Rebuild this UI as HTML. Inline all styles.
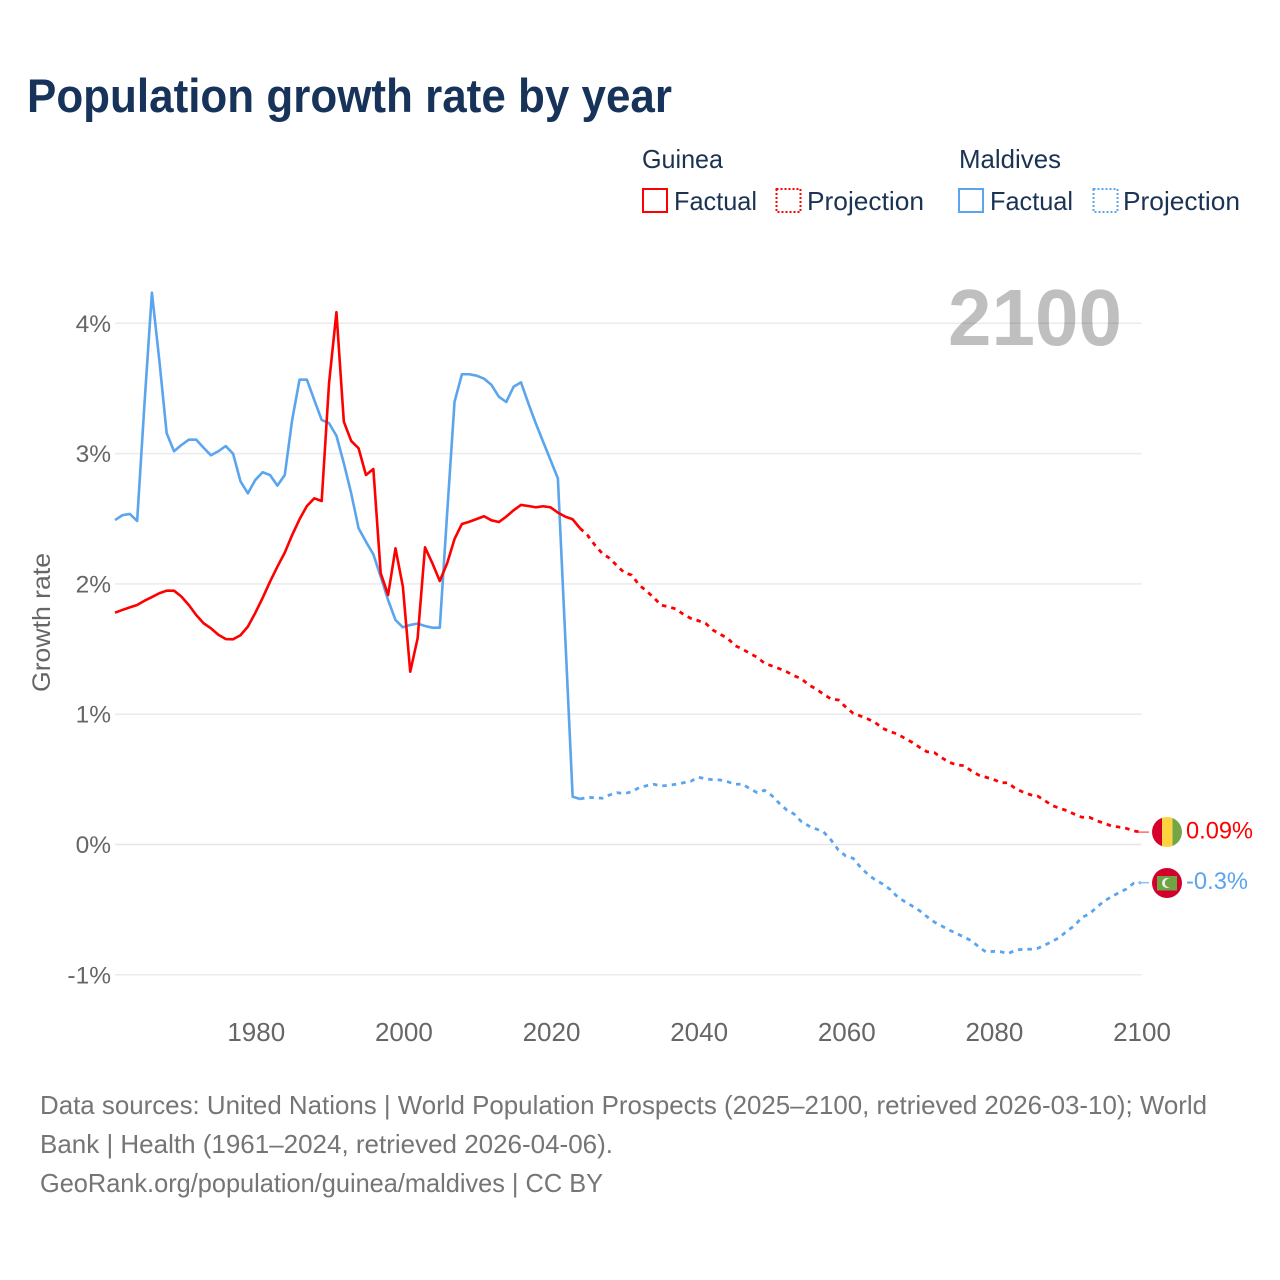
<!DOCTYPE html>
<html lang="en">
<head>
<meta charset="utf-8">
<title>Population growth rate by year</title>
<style>
html,body{margin:0;padding:0;background:#fff;}
svg{display:block;font-family:"Liberation Sans",sans-serif;}
</style>
</head>
<body>
<svg id="chart" xmlns="http://www.w3.org/2000/svg" width="1280" height="1280" viewBox="0 0 1280 1280">
  <rect x="0" y="0" width="1280" height="1280" fill="#ffffff"/>
  <text x="27" y="112" font-size="47" font-weight="bold" fill="#17335a" textLength="645" lengthAdjust="spacingAndGlyphs">Population growth rate by year</text>

  <g font-size="26" fill="#1b3353">
    <text x="642" y="168" textLength="81" lengthAdjust="spacingAndGlyphs">Guinea</text>
    <text x="959" y="168" textLength="102" lengthAdjust="spacingAndGlyphs">Maldives</text>
    <g>
      <rect x="643" y="189" width="24" height="23" fill="none" stroke="#ff0000" stroke-width="2"/>
      <text x="674" y="210" textLength="83" lengthAdjust="spacingAndGlyphs">Factual</text>
    </g>
    <g>
      <rect x="776.500" y="189" width="24" height="23" fill="none" stroke="#ff0000" stroke-width="2" stroke-dasharray="2 2"/>
      <text x="807" y="210" textLength="117" lengthAdjust="spacingAndGlyphs">Projection</text>
    </g>
    <g>
      <rect x="959" y="189" width="24" height="23" fill="none" stroke="#5ba4ee" stroke-width="2"/>
      <text x="990" y="210" textLength="83" lengthAdjust="spacingAndGlyphs">Factual</text>
    </g>
    <g>
      <rect x="1093.500" y="189" width="24" height="23" fill="none" stroke="#5ba4ee" stroke-width="2" stroke-dasharray="2 2"/>
      <text x="1123" y="210" textLength="117" lengthAdjust="spacingAndGlyphs">Projection</text>
    </g>
  </g>

  <g id="grid"></g>
  <g id="yticks" font-size="24.500" fill="#666666" text-anchor="end"></g>
  <g id="xticks" font-size="26" fill="#666666" text-anchor="middle"></g>
  <text transform="translate(50,622.500) rotate(-90)" font-size="25" fill="#666666" text-anchor="middle" textLength="139" lengthAdjust="spacingAndGlyphs">Growth rate</text>

  <text x="948" y="345" font-size="80" font-weight="bold" fill="#000000" fill-opacity="0.25" textLength="174" lengthAdjust="spacingAndGlyphs">2100</text>

  <g id="series"></g>

  <g>
    <clipPath id="clip-gn"><circle cx="1167" cy="832" r="15"/></clipPath>
    <g clip-path="url(#clip-gn)">
      <rect x="1152" y="817" width="10" height="30" fill="#d7002c"/>
      <rect x="1162" y="817" width="10.500" height="30" fill="#ffd340"/>
      <rect x="1172.500" y="817" width="10" height="30" fill="#72a646"/>
    </g>
  </g>
  <g>
    <circle cx="1167" cy="883" r="15" fill="#d3002e"/>
    <rect x="1157" y="876" width="20" height="14.500" fill="#6ea544"/>
    <circle cx="1167" cy="883" r="5" fill="#f2f2e8"/>
    <circle cx="1169" cy="883" r="4.200" fill="#6ea544"/>
  </g>
  <text id="label-guinea" x="1186" y="838.500" font-size="24.500" fill="#ff0000" textLength="67" lengthAdjust="spacingAndGlyphs"></text>
  <text id="label-maldives" x="1186" y="889" font-size="24.500" fill="#5ba4ee" textLength="62" lengthAdjust="spacingAndGlyphs"></text>

  <g font-size="26" fill="#757575">
    <text x="40" y="1114" textLength="1167" lengthAdjust="spacingAndGlyphs">Data sources: United Nations | World Population Prospects (2025–2100, retrieved 2026-03-10); World</text>
    <text x="40" y="1153" textLength="573" lengthAdjust="spacingAndGlyphs">Bank | Health (1961–2024, retrieved 2026-04-06).</text>
    <text x="40" y="1192" textLength="563" lengthAdjust="spacingAndGlyphs">GeoRank.org/population/guinea/maldives | CC BY</text>
  </g>
</svg>
<script>
const xTickYears = [1980, 2000, 2020, 2040, 2060, 2080, 2100];
const yTickValues = [-1, 0, 1, 2, 3, 4];
const yTickLabels = ["-1%", "0%", "1%", "2%", "3%", "4%"];
const factualStartYear = 1961;
const projectionStartYear = 2024;
const guineaEndLabel = "0.09%";
const maldivesEndLabel = "-0.3%";

const guineaFactual = [
  1.779,1.800,1.820,1.838,1.871,1.899,1.928,1.948,1.948,1.902,
  1.838,1.761,1.698,1.659,1.610,1.577,1.575,1.606,1.672,1.777,
  1.892,2.017,2.132,2.240,2.375,2.496,2.598,2.657,2.636,3.542,
  4.085,3.245,3.097,3.041,2.836,2.882,2.081,1.915,2.273,1.979,
  1.326,1.583,2.281,2.158,2.022,2.158,2.345,2.460,2.477,2.498,
  2.519,2.488,2.475,2.516,2.565,2.606,2.598,2.588,2.596,2.588,
  2.547,2.516,2.496,2.427
];
const guineaProjection = [
  2.427,2.375,2.299,2.235,2.197,2.140,2.086,2.068,1.992,1.946,
  1.894,1.836,1.825,1.807,1.767,1.736,1.718,1.698,1.646,1.613,
  1.583,1.526,1.500,1.467,1.437,1.391,1.370,1.349,1.326,1.295,
  1.272,1.224,1.193,1.153,1.117,1.109,1.055,1.007,0.986,0.963,
  0.935,0.892,0.866,0.848,0.815,0.784,0.746,0.712,0.705,0.666,
  0.631,0.612,0.605,0.566,0.533,0.516,0.500,0.474,0.474,0.428,
  0.403,0.382,0.372,0.336,0.298,0.278,0.259,0.232,0.209,0.209,
  0.183,0.163,0.142,0.134,0.124,0.104,0.095
];
const maldivesFactual = [
  2.490,2.527,2.537,2.483,3.388,4.235,3.718,3.156,3.018,3.066,
  3.107,3.107,3.045,2.987,3.018,3.058,2.999,2.787,2.695,2.797,
  2.857,2.836,2.754,2.836,3.258,3.567,3.567,3.411,3.258,3.233,
  3.137,2.926,2.695,2.427,2.324,2.227,2.055,1.876,1.723,1.667,
  1.685,1.695,1.677,1.664,1.664,2.544,3.398,3.609,3.609,3.598,
  3.575,3.527,3.437,3.396,3.513,3.547,3.386,3.233,3.091,2.951,
  2.810,1.589,0.367,0.349
];
const maldivesProjection = [
  0.349,0.362,0.359,0.355,0.380,0.398,0.390,0.405,0.436,0.451,
  0.462,0.449,0.454,0.462,0.474,0.485,0.516,0.505,0.497,0.495,
  0.482,0.462,0.464,0.428,0.398,0.416,0.375,0.316,0.265,0.234,
  0.175,0.142,0.119,0.096,0.035,-0.042,-0.088,-0.106,-0.175,-0.229,
  -0.272,-0.303,-0.344,-0.401,-0.439,-0.472,-0.508,-0.554,-0.595,-0.625,
  -0.656,-0.682,-0.710,-0.738,-0.784,-0.825,-0.820,-0.823,-0.838,-0.810,
  -0.804,-0.804,-0.797,-0.771,-0.743,-0.712,-0.662,-0.623,-0.559,-0.533,
  -0.482,-0.434,-0.401,-0.370,-0.342,-0.298,-0.293
];

const NS = "http://www.w3.org/2000/svg";
const xScale = function (year) { return 115 + (year - 1961) * (1026 / 139); };
const yScale = function (value) { return 844.5 - value * 130.3; };

const gridGroup = document.getElementById("grid");
const yTickGroup = document.getElementById("yticks");
const xTickGroup = document.getElementById("xticks");
const seriesGroup = document.getElementById("series");

yTickValues.forEach(function (value, i) {
  const line = document.createElementNS(NS, "line");
  
  
  line.setAttribute("x1", 115);
  line.setAttribute("x2", 1141.5);
  line.setAttribute("y1", yScale(value));
  line.setAttribute("y2", yScale(value));
  line.setAttribute("stroke", value === 0 ? "#e6e6e6" : "#ebebeb");
  line.setAttribute("stroke-width", 1.5);
  gridGroup.appendChild(line);

  const label = document.createElementNS(NS, "text");
  
  
  label.setAttribute("x", 111);
  label.setAttribute("y", yScale(value) + 8.5);
  label.textContent = yTickLabels[i];
  yTickGroup.appendChild(label);
});

xTickYears.forEach(function (year) {
  const label = document.createElementNS(NS, "text");
  
  
  label.setAttribute("x", xScale(year) + 1);
  label.setAttribute("y", 1041);
  label.textContent = String(year);
  xTickGroup.appendChild(label);
});

function pathFor(values, startYear) {
  return values.map(function (value, i) {
    return (i === 0 ? "M" : "L") + xScale(startYear + i).toFixed(2) + " " + yScale(value).toFixed(2);
  }).join(" ");
}

const guineaFactualLine = document.createElementNS(NS, "path");


guineaFactualLine.setAttribute("d", pathFor(guineaFactual, factualStartYear));
guineaFactualLine.setAttribute("fill", "none");
guineaFactualLine.setAttribute("stroke", "#ff0000");
guineaFactualLine.setAttribute("stroke-width", 2.6);
guineaFactualLine.setAttribute("stroke-linejoin", "round");

const maldivesFactualLine = document.createElementNS(NS, "path");


maldivesFactualLine.setAttribute("d", pathFor(maldivesFactual, factualStartYear));
maldivesFactualLine.setAttribute("fill", "none");
maldivesFactualLine.setAttribute("stroke", "#5ba4ee");
maldivesFactualLine.setAttribute("stroke-width", 2.6);
maldivesFactualLine.setAttribute("stroke-linejoin", "round");

const guineaProjectionLine = document.createElementNS(NS, "path");


guineaProjectionLine.setAttribute("d", pathFor(guineaProjection, projectionStartYear));
guineaProjectionLine.setAttribute("fill", "none");
guineaProjectionLine.setAttribute("stroke", "#ff0000");
guineaProjectionLine.setAttribute("stroke-width", 2.8);
guineaProjectionLine.setAttribute("stroke-dasharray", "4.5 5");

const maldivesProjectionLine = document.createElementNS(NS, "path");


maldivesProjectionLine.setAttribute("d", pathFor(maldivesProjection, projectionStartYear));
maldivesProjectionLine.setAttribute("fill", "none");
maldivesProjectionLine.setAttribute("stroke", "#5ba4ee");
maldivesProjectionLine.setAttribute("stroke-width", 2.8);
maldivesProjectionLine.setAttribute("stroke-dasharray", "4.5 5");

seriesGroup.appendChild(maldivesFactualLine);
seriesGroup.appendChild(maldivesProjectionLine);
seriesGroup.appendChild(guineaFactualLine);
seriesGroup.appendChild(guineaProjectionLine);

const guineaEnd = guineaProjection[guineaProjection.length - 1];
const maldivesEnd = maldivesProjection[maldivesProjection.length - 1];

const guineaConnector = document.createElementNS(NS, "line");


guineaConnector.setAttribute("x1", xScale(2100) - 3);
guineaConnector.setAttribute("x2", xScale(2100) + 8);
guineaConnector.setAttribute("y1", yScale(guineaEnd));
guineaConnector.setAttribute("y2", yScale(guineaEnd));
guineaConnector.setAttribute("stroke", "#ff6a6a");
guineaConnector.setAttribute("stroke-width", 1.5);
seriesGroup.appendChild(guineaConnector);

const maldivesConnector = document.createElementNS(NS, "line");


maldivesConnector.setAttribute("x1", xScale(2100) - 3);
maldivesConnector.setAttribute("x2", xScale(2100) + 8);
maldivesConnector.setAttribute("y1", yScale(maldivesEnd));
maldivesConnector.setAttribute("y2", yScale(maldivesEnd));
maldivesConnector.setAttribute("stroke", "#8fc0f3");
maldivesConnector.setAttribute("stroke-width", 1.5);
seriesGroup.appendChild(maldivesConnector);

document.getElementById("label-guinea").textContent = guineaEndLabel;
document.getElementById("label-maldives").textContent = maldivesEndLabel;
</script>
</body>
</html>
